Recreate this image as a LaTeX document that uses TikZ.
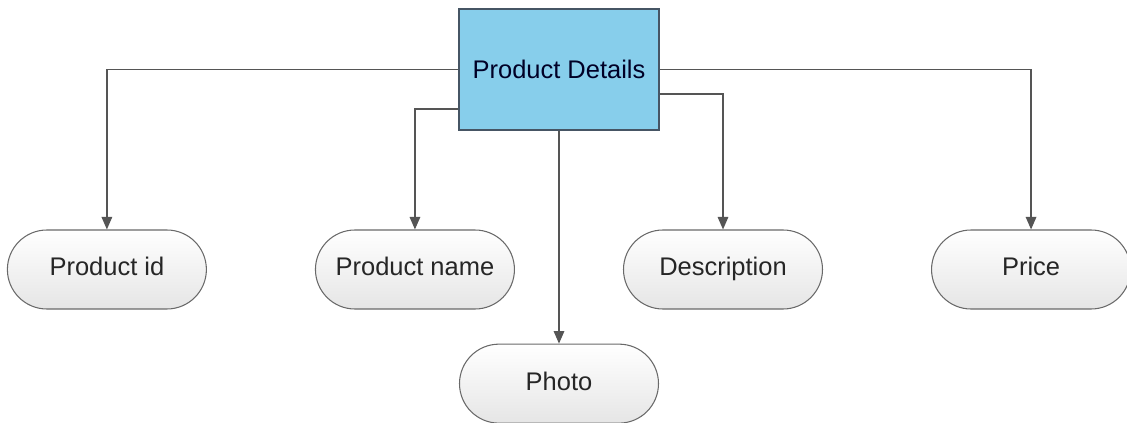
\documentclass[tikz,border=0pt]{standalone}
\usepackage{fontspec}
\setsansfont{Liberation Sans}
\usepackage{tikz}
\usetikzlibrary{arrows.meta, positioning, calc}

\definecolor{boxblue}{RGB}{135,206,235}
\definecolor{boxedge}{RGB}{70,85,100}
\definecolor{linegray}{RGB}{85,85,85}
\definecolor{pilledge}{RGB}{105,105,105}

\begin{document}
\begin{tikzpicture}[
    font=\sffamily\fontsize{14.5pt}{17pt}\selectfont,
    node distance=2.16cm,
    % Styles
    mainbox/.style={
        draw=boxedge, fill=boxblue, text=black!85!blue,
        minimum width=4cm, minimum height=2.42cm, line width=0.7pt
    },
    attrpill/.style={
        draw=pilledge, rounded corners=0.79cm, top color=white,
        bottom color=black!10, text=black!85,
        text height=2ex, text depth=0.3ex,
        minimum width=3.98cm, minimum height=1.58cm, line width=0.6pt
    },
    arrow/.style={-{Triangle[length=0.25cm, width=0.21cm]}, line width=0.8pt, linegray}
]

    \useasboundingbox (0,0) rectangle (22.54,-8.46);

    % --- Top: entity ---
    \node[mainbox] (details) at (11.18,-1.39) {Product Details};

    % --- Row of attributes ---
    \node[attrpill] (desc) at (14.46,-5.39) {Description};
    \node[attrpill, right=of desc] (price) {Price};
    \node[attrpill, left=of desc] (name) {Product name};
    \node[attrpill, left=of name] (id) {Product id};

    % --- Bottom attribute ---
    \node[attrpill, below=4.26cm of details] (photo) {Photo};

    % --- Connections ---
    \coordinate (nameout) at ([yshift=-0.79cm]details.west);
    \coordinate (descout) at ([yshift=-0.49cm]details.east);
    \draw[arrow] (details.west) -| (id.north);
    \draw[arrow] (nameout) -| (name.north);
    \draw[arrow] (details.south) -- (photo.north);
    \draw[arrow] (descout) -| (desc.north);
    \draw[arrow] (details.east) -| (price.north);

\end{tikzpicture}
\end{document}
